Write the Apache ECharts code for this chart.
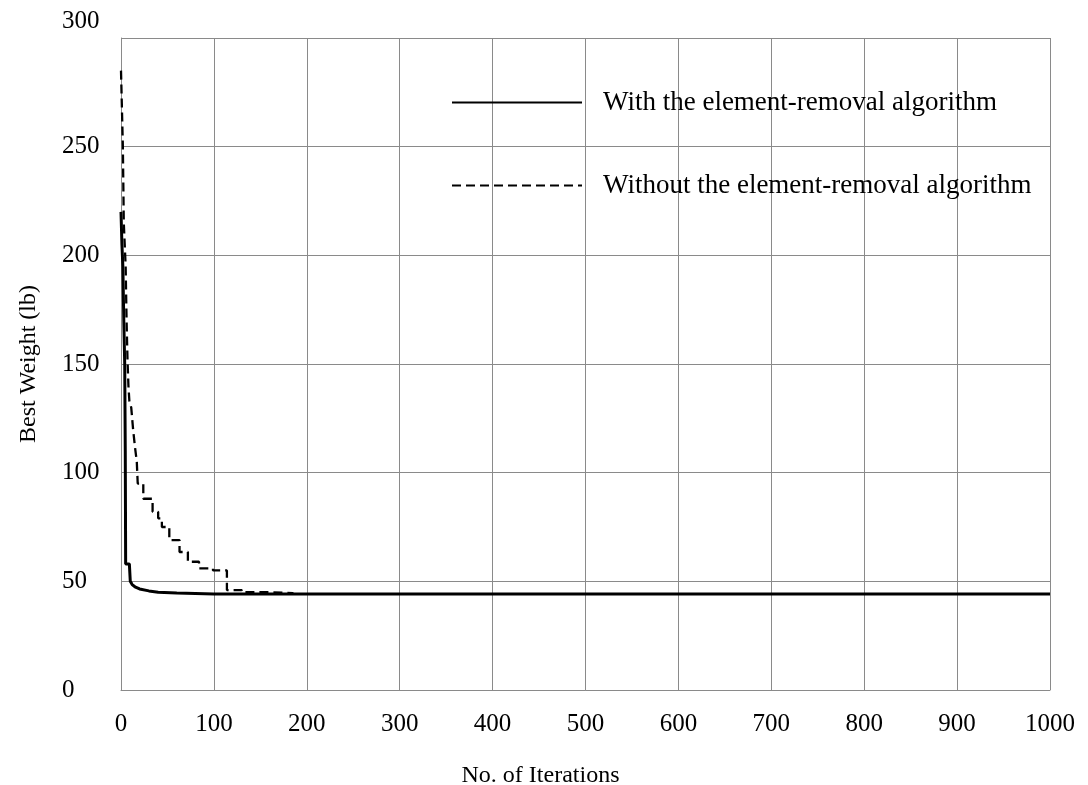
<!DOCTYPE html>
<html>
<head>
<meta charset="utf-8">
<script src="https://cdn.jsdelivr.net/npm/echarts@6/dist/echarts.min.js"></script>
<style>
  html, body { margin: 0; padding: 0; background: #fff; overflow: hidden; }
  #chart { width: 1088px; height: 785px; }
</style>
</head>
<body>
<div id="chart"></div>
<script>
// Convergence history: best weight per iteration
const seriesNames = ['With the element-removal algorithm', 'Without the element-removal algorithm'];

// With element removal (iteration, best weight in lb)
const withIter   = [0,   1,   2,   3,   4,   4.6, 5,  9,  10, 12,   15,   20,   30,   40, 60,   80,   100,  1000];
const withWeight = [220, 205, 195, 170, 150, 110, 58, 58, 50, 48.5, 47.5, 46.5, 45.6, 45, 44.6, 44.4, 44.2, 44.2];

// Without element removal (iteration, best weight in lb), held until next change;
// from iteration ~180 on it runs along the other curve
const withoutIter   = [0,   2,   3,   4,   5,   6,   7,   8,   9,   11,  13,  15,  17,  18, 24, 34, 40, 44, 52, 63,   72, 84, 99, 114, 130, 160,  185];
const withoutWeight = [285, 250, 215, 205, 195, 170, 152, 140, 133, 130, 120, 112, 105, 95, 88, 82, 79, 75, 69, 63.5, 59, 56, 55, 46,  45,  44.6, 44.2];

const xTicks = { min: 0, max: 1000, interval: 100 };
const yTicks = { min: 0, max: 300, interval: 50 };

const pairs = (xs, ys) => xs.map((x, i) => [x, ys[i]]);

const FONT = '"Liberation Serif", "DejaVu Serif", serif';
const GRID_COLOR = '#8a8a8a';

const chart = echarts.init(document.getElementById('chart'), null, { renderer: 'canvas' });

chart.setOption({
  animation: false,
  backgroundColor: '#ffffff',
  textStyle: { fontFamily: FONT, color: '#000' },
  grid: { left: 121, right: 38, top: 38, bottom: 95, containLabel: false, outerBoundsMode: 'none' },
  legend: {
    data: [seriesNames[0], seriesNames[1]],
    orient: 'vertical',
    left: 446,
    top: 84,
    itemWidth: 130,
    itemHeight: 30,
    itemGap: 56,
    itemStyle: { opacity: 0 },
    textStyle: { fontFamily: FONT, fontSize: 27, color: '#000', padding: [0, 0, 0, 16] }
  },
  xAxis: {
    type: 'value',
    min: xTicks.min, max: xTicks.max, interval: xTicks.interval,
    name: 'No. of Iterations',
    nameLocation: 'middle',
    nameGap: 74,
    nameTextStyle: { fontFamily: FONT, fontSize: 24, color: '#000', padding: [0, 90, 0, 0] },
    axisLine: { show: true, lineStyle: { color: GRID_COLOR, width: 1 } },
    axisTick: { show: false },
    axisLabel: { margin: 22, fontFamily: FONT, fontSize: 25, color: '#000', formatter: v => String(v) },
    splitLine: { show: true, lineStyle: { color: GRID_COLOR, width: 1 } }
  },
  yAxis: {
    type: 'value',
    min: yTicks.min, max: yTicks.max, interval: yTicks.interval,
    name: 'Best Weight (lb)',
    nameLocation: 'middle',
    nameGap: 80,
    nameRotate: 90,
    nameTextStyle: { fontFamily: FONT, fontSize: 24, color: '#000' },
    axisLine: { show: true, lineStyle: { color: GRID_COLOR, width: 1 } },
    axisTick: { show: false },
    axisLabel: {
      margin: 59,
      align: 'left',
      fontFamily: FONT, fontSize: 25, color: '#000',
      formatter: v => (v === 300 ? '{top|' + v + '}' : String(v)),
      rich: { top: { fontFamily: FONT, fontSize: 25, color: '#000', padding: [0, 0, 34, 0] } }
    },
    splitLine: { show: true, lineStyle: { color: GRID_COLOR, width: 1 } }
  },
  series: [
    {
      name: seriesNames[1],
      type: 'line',
      step: 'end',
      data: pairs(withoutIter, withoutWeight),
      symbol: 'none',
      z: 2,
      lineStyle: { color: '#000', width: 2.3, type: [9, 5] },
      itemStyle: { color: '#000' }
    },
    {
      name: seriesNames[0],
      type: 'line',
      data: pairs(withIter, withWeight),
      symbol: 'none',
      z: 3,
      lineStyle: { color: '#000', width: 3, type: 'solid' },
      itemStyle: { color: '#000' }
    }
  ]
});
</script>
</body>
</html>
